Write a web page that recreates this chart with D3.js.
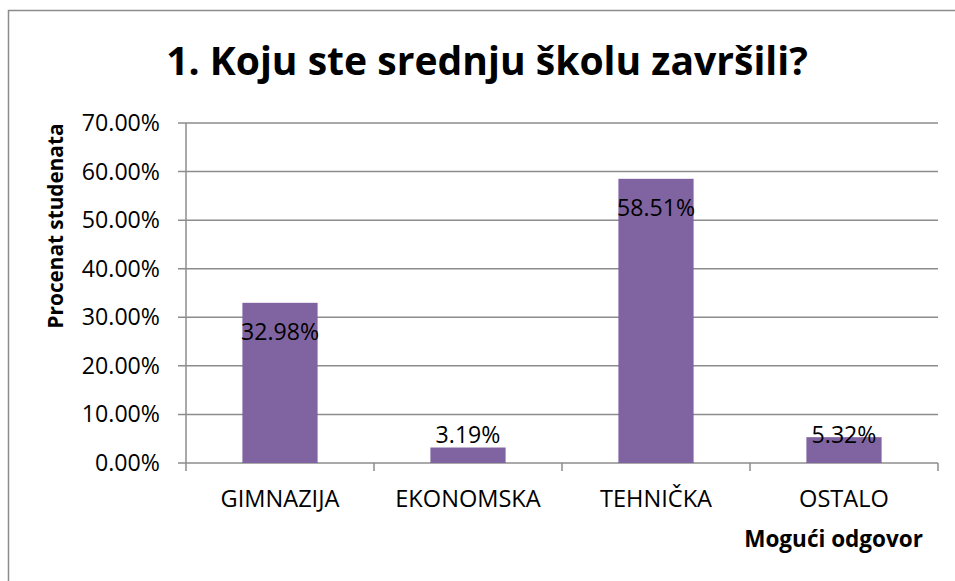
<!DOCTYPE html>
<html>
<head>
<meta charset="utf-8">
<script src="https://cdn.jsdelivr.net/npm/d3@7"></script>
<style>
  body { margin: 0; background: #fff; }
  svg { display: block; }
  text { font-family: "Open Sans", "Noto Sans", sans-serif; fill: #000; }
</style>
</head>
<body>
<svg id="chart"></svg>
<script>
var categories = ["GIMNAZIJA", "EKONOMSKA", "TEHNIČKA", "OSTALO"];
var values = [32.98, 3.19, 58.51, 5.32];
var yTicks = [0, 10, 20, 30, 40, 50, 60, 70];
var titleText = "1. Koju ste srednju školu završili?";
var xTitle = "Mogući odgovor";
var yTitle = "Procenat studenata";

var width = 955, height = 581;
var margin = {left: 186, right: 955 - 938, top: 123, bottom: 581 - 463};

var svg = d3.select("#chart")
    .attr("width", width)
    .attr("height", height);

// scale a text group so that its first item has the width seen in the reference
function fitGroup(sel, baseSize, targetWidth) {
    var w = sel.node().getComputedTextLength();
    sel.attr("font-size", baseSize * targetWidth / w);
}

// outer chart frame (only left and top edges are visible)
svg.append("path")
    .attr("d", "M8.5,581V10.5H955")
    .attr("fill", "none")
    .attr("stroke", "#8c8c8c")
    .attr("stroke-width", 1.5);

var x = d3.scaleBand()
    .domain(categories)
    .range([margin.left, width - margin.right])
    .paddingInner(0.6)
    .paddingOuter(0.3);

var y = d3.scaleLinear()
    .domain([0, 70])
    .range([height - margin.bottom, margin.top]);

svg.append("g").attr("class", "grid")
    .selectAll("line")
    .data(yTicks)
    .enter().append("line")
    .attr("x1", margin.left - 8)
    .attr("x2", width - margin.right)
    .attr("y1", function (d) { return y(d); })
    .attr("y2", function (d) { return y(d); })
    .attr("stroke", "#8c8c8c")
    .attr("stroke-width", 1.5);

// y axis line
svg.append("line")
    .attr("x1", margin.left).attr("x2", margin.left)
    .attr("y1", y(70)).attr("y2", y(0) + 8)
    .attr("stroke", "#8c8c8c")
    .attr("stroke-width", 1.5);

// category separators below the axis
var sepX = d3.range(1, categories.length + 1).map(function (i) {
    return margin.left + i * (width - margin.right - margin.left) / categories.length;
});
svg.append("g").selectAll("line")
    .data(sepX)
    .enter().append("line")
    .attr("x1", function (d) { return d; })
    .attr("x2", function (d) { return d; })
    .attr("y1", y(0))
    .attr("y2", y(0) + 8)
    .attr("stroke", "#8c8c8c")
    .attr("stroke-width", 1.5);

var yLabels = svg.append("g").selectAll("text")
    .data(yTicks)
    .enter().append("text")
    .attr("x", 160)
    .attr("y", function (d) { return y(d) + 8; })
    .attr("text-anchor", "end")
    .attr("font-size", 20)
    .text(function (d) { return d.toFixed(2) + "%"; });
fitGroup(yLabels, 20, 65);

svg.append("g").selectAll("rect")
    .data(values)
    .enter().append("rect")
    .attr("x", function (d, i) { return x(categories[i]); })
    .attr("width", x.bandwidth())
    .attr("y", function (d) { return y(d); })
    .attr("height", function (d) { return y(0) - y(d); })
    .attr("fill", "#8064a2");

var dataLabels = svg.append("g").selectAll("text")
    .data(values)
    .enter().append("text")
    .attr("x", function (d, i) { return x(categories[i]) + x.bandwidth() / 2; })
    .attr("y", function (d) { return Math.min(y(d) + 37, y(0) - 20); })
    .attr("text-anchor", "middle")
    .attr("font-size", 20)
    .text(function (d) { return d.toFixed(2) + "%"; });
fitGroup(dataLabels, 20, 78);

var catLabels = svg.append("g").selectAll("text")
    .data(categories)
    .enter().append("text")
    .attr("x", function (d) { return x(d) + x.bandwidth() / 2; })
    .attr("y", 507)
    .attr("text-anchor", "middle")
    .attr("font-size", 18)
    .text(function (d) { return d; });
fitGroup(catLabels, 18, 119);

var title = svg.append("text")
    .attr("x", 487)
    .attr("y", 75)
    .attr("text-anchor", "middle")
    .attr("font-weight", "bold")
    .attr("font-size", 36)
    .text(titleText);
fitGroup(title, 36, 642);

var xt = svg.append("text")
    .attr("x", 923)
    .attr("y", 547)
    .attr("text-anchor", "end")
    .attr("font-weight", "bold")
    .attr("font-size", 18)
    .text(xTitle);
fitGroup(xt, 18, 179);

var yt = svg.append("text")
    .attr("transform", "translate(63,226) rotate(-90)")
    .attr("text-anchor", "middle")
    .attr("font-weight", "bold")
    .attr("font-size", 18)
    .text(yTitle);
fitGroup(yt, 18, 205);
</script>
</body>
</html>
